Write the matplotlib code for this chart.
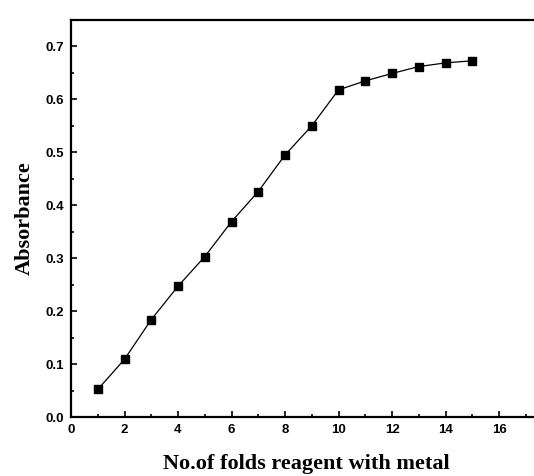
import matplotlib.pyplot as plt
from matplotlib.ticker import MultipleLocator

# fold ratio reagent : metal vs absorbance
folds = [1, 2, 3, 4, 5, 6, 7, 8, 9, 10, 11, 12, 13, 14, 15]
absorbance = [0.052, 0.109, 0.184, 0.247, 0.303, 0.369, 0.426, 0.495, 0.550,
              0.618, 0.635, 0.649, 0.662, 0.669, 0.673]

fig = plt.figure(figsize=(5.34, 4.76), dpi=100)
ax = fig.add_axes([71/534, (476-417)/476, (17.6*26.75)/534, (417-20)/476])

ax.plot(folds, absorbance, color='black', lw=0.9, marker='s', ms=5.5,
        markerfacecolor='black', markeredgecolor='black')

ax.set_xlim(0, 17.6)
ax.set_ylim(0, 0.75)
ax.xaxis.set_major_locator(MultipleLocator(2))
ax.xaxis.set_minor_locator(MultipleLocator(1))
ax.yaxis.set_major_locator(MultipleLocator(0.1))
ax.yaxis.set_minor_locator(MultipleLocator(0.05))
ax.yaxis.set_major_formatter(plt.FuncFormatter(lambda v, p: '%.1f' % v))

ax.tick_params(which='both', direction='in', top=False, right=False, width=1.2)
ax.tick_params(which='major', length=4, labelsize=9.5, pad=5)
ax.tick_params(which='minor', length=2)
for lab in ax.get_xticklabels() + ax.get_yticklabels():
    lab.set_fontfamily('Liberation Sans')
    lab.set_fontweight('bold')

for s in ['left', 'bottom', 'top']:
    ax.spines[s].set_linewidth(1.6)
ax.spines['right'].set_visible(False)

ax.set_xlabel('No.of folds reagent with metal', fontsize=16, fontweight='bold',
              family='Liberation Serif', labelpad=13)
ax.set_ylabel('Absorbance', fontsize=16, fontweight='bold',
              family='Liberation Serif', labelpad=8)

fig.savefig('out.png', dpi=100)
